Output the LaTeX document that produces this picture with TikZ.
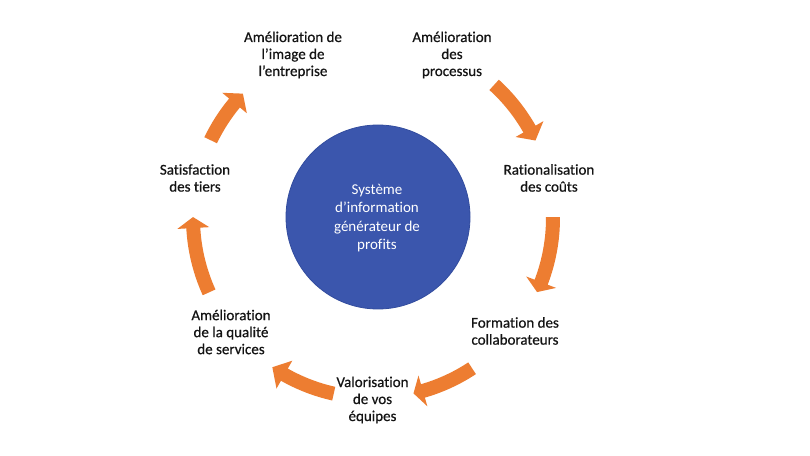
\documentclass[tikz,border=0pt]{standalone}
\usepackage{fontspec}
\setmainfont{Carlito}[Ligatures=NoCommon]
\newfontfamily\lblfont{Carlito}[Ligatures=NoCommon, FakeBold=0.6]
\definecolor{cblue}{RGB}{59,86,173}
\definecolor{cblueline}{RGB}{50,76,158}
\definecolor{corange}{RGB}{237,125,49}
\definecolor{ctext}{RGB}{20,20,20}
\newcommand\cycarrow[3]{%
  \fill[arr] (#1:187) arc[start angle=#1, end angle=#2, radius=187]
    -- (#2:196) -- (#3:180) -- (#2:164) -- (#2:173)
    arc[start angle=#2, end angle=#1, radius=173] -- cycle;}
\begin{document}
\begin{tikzpicture}[x=1pt,y=1pt,
  lbl/.style={align=center, inner sep=0pt, text=ctext, font=\lblfont\fontsize{15}{17}\selectfont},
  arr/.style={fill=corange},
  hub/.style={circle, fill=cblue, draw=cblueline, line width=0.8pt, minimum size=184pt, inner sep=0pt}]
\useasboundingbox[fill=white] (0,0) rectangle (810,455);
\node[hub] (hubc) at (378,238) {};
\node[align=center, inner sep=0pt, text=white, font=\fontsize{15}{18.2}\selectfont] (hubt) at (377,237) {Système\\d’information\\générateur de\\profits};
\node[lbl] (img) at (293,400) {Amélioration de\\l’image de\\l’entreprise};
\node[lbl] (proc) at (452,400) {Amélioration\\des\\processus};
\node[lbl] (couts) at (549,277) {Rationalisation\\des coûts};
\node[lbl] (form) at (515,124) {Formation des\\collaborateurs};
\node[lbl] (valo) at (372.5,55) {Valorisation\\de vos\\équipes};
\node[lbl] (qual) at (231,123) {Amélioration\\de la qualité\\de services};
\node[lbl] (sat) at (195,277) {Satisfaction\\des tiers};
\begin{scope}[shift={(373,237)}]
\cycarrow{47.7}{29.6}{25.5}
\cycarrow{0.3}{-20.9}{-24.3}
\cycarrow{-56.6}{-73.9}{-77}
\cycarrow{-102.6}{-119.5}{-124}
\cycarrow{-155.6}{-176.8}{-180.3}
\cycarrow{154.4}{140.3}{136.3}
\end{scope}
\end{tikzpicture}
\end{document}
